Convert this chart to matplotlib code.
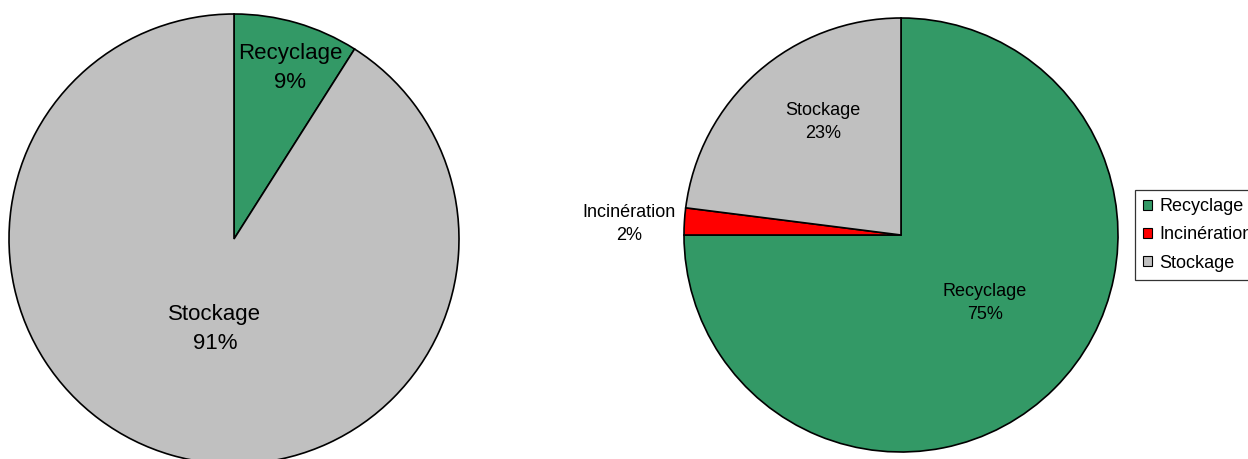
import matplotlib
matplotlib.use("Agg")
import matplotlib.pyplot as plt
from matplotlib.patches import Patch

plt.rcParams['font.family'] = ['Liberation Sans', 'DejaVu Sans']

# Data
categories_left = ["Recyclage", "Stockage"]
values_left = [9, 91]

categories_right = ["Recyclage", "Incinération", "Stockage"]
values_right = [75, 2, 23]

colors = {"Recyclage": "#339966", "Incinération": "#FF0000", "Stockage": "#C0C0C0"}

W, H = 1248, 459
fig = plt.figure(figsize=(W / 100, H / 100), dpi=100)


def px_axes(cx, cy, r):
    """Axes of size 2r x 2r (pixels) centred at (cx, cy) measured from top-left."""
    return fig.add_axes([(cx - r) / W, (H - cy - r) / H, 2 * r / W, 2 * r / H])


wedge_style = dict(edgecolor="black", linewidth=1.2)

# Left pie
ax1 = px_axes(234, 239, 225)
ax1.pie(values_left, colors=[colors[c] for c in categories_left],
        startangle=90, counterclock=False, radius=1,
        wedgeprops=wedge_style)
ax1.set_xlim(-1, 1)
ax1.set_ylim(-1, 1)
ax1.set_aspect("equal")
ax1.axis("off")
left_label_pos = [(0.25, 0.76), (-0.085, -0.40)]
for cat, val, (x, y) in zip(categories_left, values_left, left_label_pos):
    ax1.text(x, y, f"{cat}\n{val}%", ha="center", va="center",
             fontsize=16, linespacing=1.55, color="black")

# Right pie
ax2 = px_axes(901, 235, 217)
ax2.pie(values_right, colors=[colors[c] for c in categories_right],
        startangle=90, counterclock=False, radius=1,
        wedgeprops=wedge_style)
ax2.set_xlim(-1, 1)
ax2.set_ylim(-1, 1)
ax2.set_aspect("equal")
ax2.axis("off")
right_label_pos = [(0.387, -0.313), (-1.253, 0.051), (-0.359, 0.521)]
for cat, val, (x, y) in zip(categories_right, values_right, right_label_pos):
    ax2.text(x, y, f"{cat}\n{val}%", ha="center", va="center",
             fontsize=13, linespacing=1.5, color="black")

# Legend
handles = [Patch(facecolor=colors[c], edgecolor="black", linewidth=0.8)
           for c in categories_right]
leg = fig.legend(handles, categories_right, loc="upper left",
                 bbox_to_anchor=(1135 / W, 1 - 190 / H),
                 fontsize=13, frameon=True, fancybox=False,
                 handlelength=0.5, handleheight=0.5, handletextpad=0.4,
                 borderpad=0.45, labelspacing=0.62, borderaxespad=0)
leg.get_frame().set_edgecolor("black")
leg.get_frame().set_linewidth(0.9)

fig.savefig("out.png", dpi=100)
